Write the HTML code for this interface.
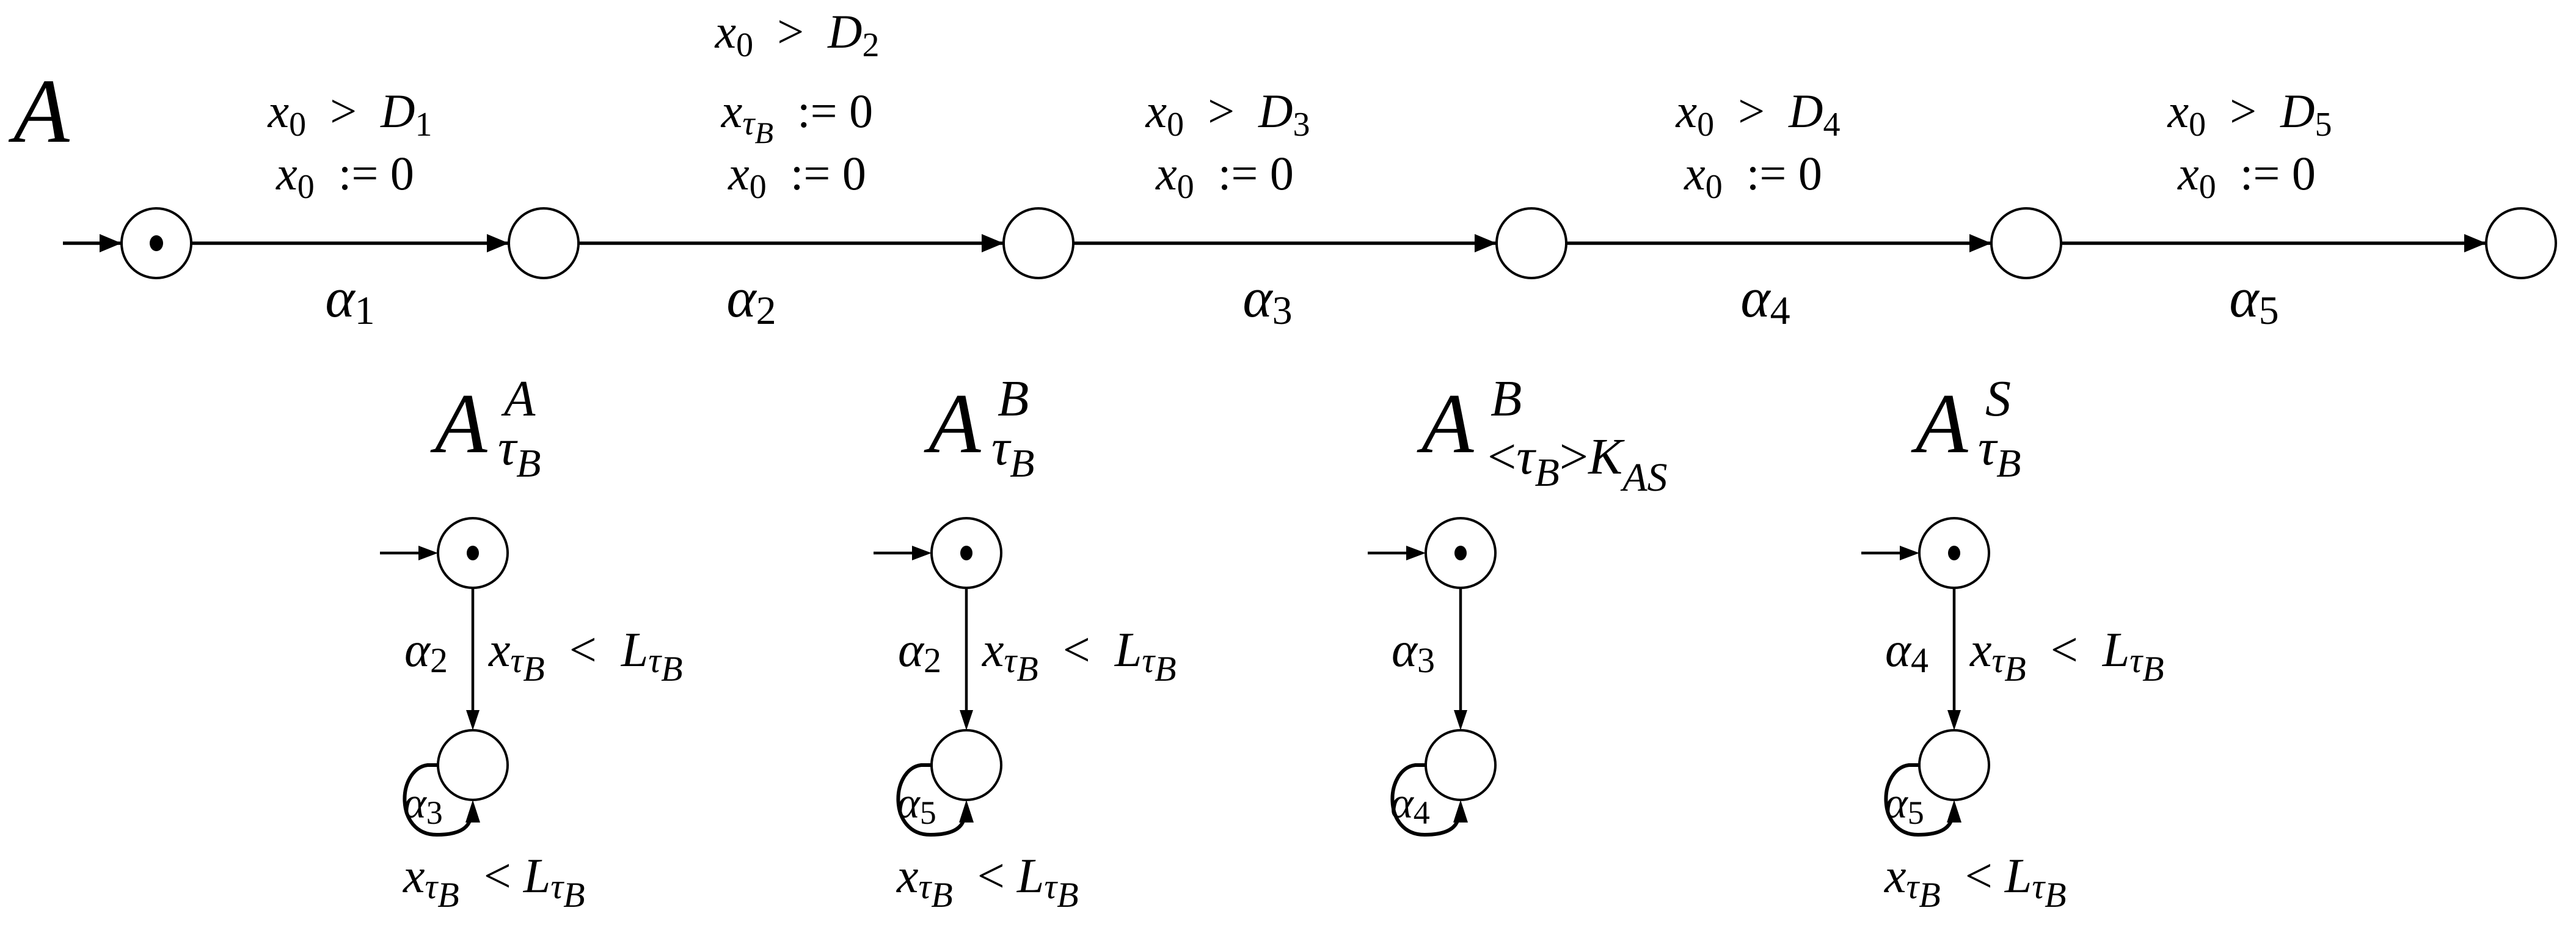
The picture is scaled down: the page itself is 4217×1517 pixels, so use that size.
<!DOCTYPE html>
<html><head><meta charset="utf-8"><style>
html,body{margin:0;padding:0;background:#fff}
svg{display:block}
text{font-family:"Liberation Serif",serif;fill:#000;white-space:pre}
.m{font-style:italic}
</style></head><body>
<svg width="4217" height="1517" viewBox="0 0 4217 1517" xmlns="http://www.w3.org/2000/svg">
<defs>
<g id="ar"><polygon points="0,0 -36,-15 -36,15" fill="#000"/></g>
</defs>
<text x="22" y="232" font-size="150" class="m">A</text>

<g stroke="#000" stroke-width="5.5" fill="none">
<line x1="103" y1="398" x2="199" y2="398"/>
<line x1="313" y1="398" x2="833" y2="398"/>
<line x1="947" y1="398" x2="1643" y2="398"/>
<line x1="1757" y1="398" x2="2450" y2="398"/>
<line x1="2564" y1="398" x2="3260" y2="398"/>
<line x1="3374" y1="398" x2="4070" y2="398"/>
</g>
<g stroke="#000" stroke-width="4" fill="#fff">
<circle cx="256" cy="398" r="57"/><circle cx="890" cy="398" r="57"/>
<circle cx="1700" cy="398" r="57"/><circle cx="2507" cy="398" r="57"/>
<circle cx="3317" cy="398" r="57"/><circle cx="4127" cy="398" r="57"/>
</g>
<ellipse cx="256" cy="398" rx="11" ry="13" fill="#000"/>
<use href="#ar" x="199" y="398"/><use href="#ar" x="833" y="398"/><use href="#ar" x="1643" y="398"/>
<use href="#ar" x="2450" y="398"/><use href="#ar" x="3260" y="398"/><use href="#ar" x="4070" y="398"/>

<g font-size="78" text-anchor="middle">
<text x="573" y="208"><tspan class="m">x</tspan><tspan font-size="56" dy="14">0</tspan><tspan dy="-14">  &gt;  </tspan><tspan class="m">D</tspan><tspan font-size="56" dy="14">1</tspan></text>
<text x="565" y="310"><tspan class="m">x</tspan><tspan font-size="56" dy="14">0</tspan><tspan dy="-14">  := 0</tspan></text>
<text x="1305" y="78"><tspan class="m">x</tspan><tspan font-size="56" dy="14">0</tspan><tspan dy="-14">  &gt;  </tspan><tspan class="m">D</tspan><tspan font-size="56" dy="14">2</tspan></text>
<text x="1305" y="208"><tspan class="m">x</tspan><tspan font-size="56" dy="12" class="m">τ</tspan><tspan font-size="50" dy="14" class="m">B</tspan><tspan dy="-26">  := 0</tspan></text>
<text x="1305" y="310"><tspan class="m">x</tspan><tspan font-size="56" dy="14">0</tspan><tspan dy="-14">  := 0</tspan></text>
<text x="2010" y="208"><tspan class="m">x</tspan><tspan font-size="56" dy="14">0</tspan><tspan dy="-14">  &gt;  </tspan><tspan class="m">D</tspan><tspan font-size="56" dy="14">3</tspan></text>
<text x="2005" y="310"><tspan class="m">x</tspan><tspan font-size="56" dy="14">0</tspan><tspan dy="-14">  := 0</tspan></text>
<text x="2878" y="208"><tspan class="m">x</tspan><tspan font-size="56" dy="14">0</tspan><tspan dy="-14">  &gt;  </tspan><tspan class="m">D</tspan><tspan font-size="56" dy="14">4</tspan></text>
<text x="2870" y="310"><tspan class="m">x</tspan><tspan font-size="56" dy="14">0</tspan><tspan dy="-14">  := 0</tspan></text>
<text x="3683" y="208"><tspan class="m">x</tspan><tspan font-size="56" dy="14">0</tspan><tspan dy="-14">  &gt;  </tspan><tspan class="m">D</tspan><tspan font-size="56" dy="14">5</tspan></text>
<text x="3678" y="310"><tspan class="m">x</tspan><tspan font-size="56" dy="14">0</tspan><tspan dy="-14">  := 0</tspan></text>
</g>
<g font-size="92" text-anchor="middle">
<text x="573" y="518"><tspan class="m">α</tspan><tspan font-size="66" dy="12">1</tspan></text>
<text x="1230" y="518"><tspan class="m">α</tspan><tspan font-size="66" dy="12">2</tspan></text>
<text x="2075" y="518"><tspan class="m">α</tspan><tspan font-size="66" dy="12">3</tspan></text>
<text x="2890" y="518"><tspan class="m">α</tspan><tspan font-size="66" dy="12">4</tspan></text>
<text x="3690" y="518"><tspan class="m">α</tspan><tspan font-size="66" dy="12">5</tspan></text>
</g>

<g id="auto1">
<g stroke="#000" stroke-width="4.5" fill="none">
<line x1="622" y1="905" x2="690" y2="905"/>
<line x1="774" y1="962" x2="774" y2="1170"/>
<path d="M717 1252 L700 1252 C650 1258 645 1366 715 1366 C750 1366 766 1356 770 1340" stroke-width="6"/>
</g>
<g stroke="#000" stroke-width="4" fill="#fff">
<circle cx="774" cy="905" r="57"/><circle cx="774" cy="1252" r="57"/>
</g>
<ellipse cx="774" cy="905" rx="10" ry="12" fill="#000"/>
<polygon points="717,905 685,893 685,917" fill="#000"/>
<polygon points="774,1195 763,1162 785,1162" fill="#000"/>
<polygon points="774,1309 762,1346 786,1346" fill="#000"/>
</g>
<use href="#auto1" x="808" y="0"/>
<use href="#auto1" x="1617" y="0"/>
<use href="#auto1" x="2425" y="0"/>

<g font-size="140" class="m">
<text x="712" y="740">A</text><text x="1520" y="740">A</text><text x="2327" y="740">A</text><text x="3136" y="740">A</text>
</g>
<g font-size="84">
<text x="825" y="680" class="m">A</text>
<text x="815" y="760" class="m">τ<tspan font-size="66" dy="20">B</tspan></text>
<text x="1633" y="680" class="m">B</text>
<text x="1623" y="760" class="m">τ<tspan font-size="66" dy="20">B</tspan></text>
<text x="2440" y="680" class="m">B</text>
<text x="2435" y="775">&lt;<tspan class="m">τ</tspan><tspan font-size="66" dy="20" class="m">B</tspan><tspan dy="-20">&gt;</tspan><tspan class="m">K</tspan><tspan font-size="66" dy="28" class="m">AS</tspan></text>
<text x="3250" y="680" class="m">S</text>
<text x="3238" y="760" class="m">τ<tspan font-size="66" dy="20">B</tspan></text>
</g>

<g font-size="80">
<text x="662" y="1090"><tspan class="m">α</tspan><tspan font-size="58" dy="10">2</tspan></text>
<text x="1470" y="1090"><tspan class="m">α</tspan><tspan font-size="58" dy="10">2</tspan></text>
<text x="2278" y="1090"><tspan class="m">α</tspan><tspan font-size="58" dy="10">3</tspan></text>
<text x="3086" y="1090"><tspan class="m">α</tspan><tspan font-size="58" dy="10">4</tspan></text>
<g font-size="72">
<text x="660" y="1338"><tspan class="m">α</tspan><tspan font-size="54" dy="10">3</tspan></text>
<text x="1468" y="1338"><tspan class="m">α</tspan><tspan font-size="54" dy="10">5</tspan></text>
<text x="2276" y="1338"><tspan class="m">α</tspan><tspan font-size="54" dy="10">4</tspan></text>
<text x="3085" y="1338"><tspan class="m">α</tspan><tspan font-size="54" dy="10">5</tspan></text>
</g>
</g>
<g font-size="80" id="g1">
<text x="800" y="1090"><tspan class="m">x</tspan><tspan font-size="58" dy="10" class="m">τ</tspan><tspan font-size="58" dy="14" class="m">B</tspan><tspan dy="-24">  &lt;  </tspan><tspan class="m">L</tspan><tspan font-size="58" dy="10" class="m">τ</tspan><tspan font-size="58" dy="14" class="m">B</tspan></text>
<text x="660" y="1460"><tspan class="m">x</tspan><tspan font-size="58" dy="10" class="m">τ</tspan><tspan font-size="58" dy="14" class="m">B</tspan><tspan dy="-24">  &lt; </tspan><tspan class="m">L</tspan><tspan font-size="58" dy="10" class="m">τ</tspan><tspan font-size="58" dy="14" class="m">B</tspan></text>
</g>
<use href="#g1" x="808" y="0"/>
<use href="#g1" x="2425" y="0"/>
</svg>
</body></html>
